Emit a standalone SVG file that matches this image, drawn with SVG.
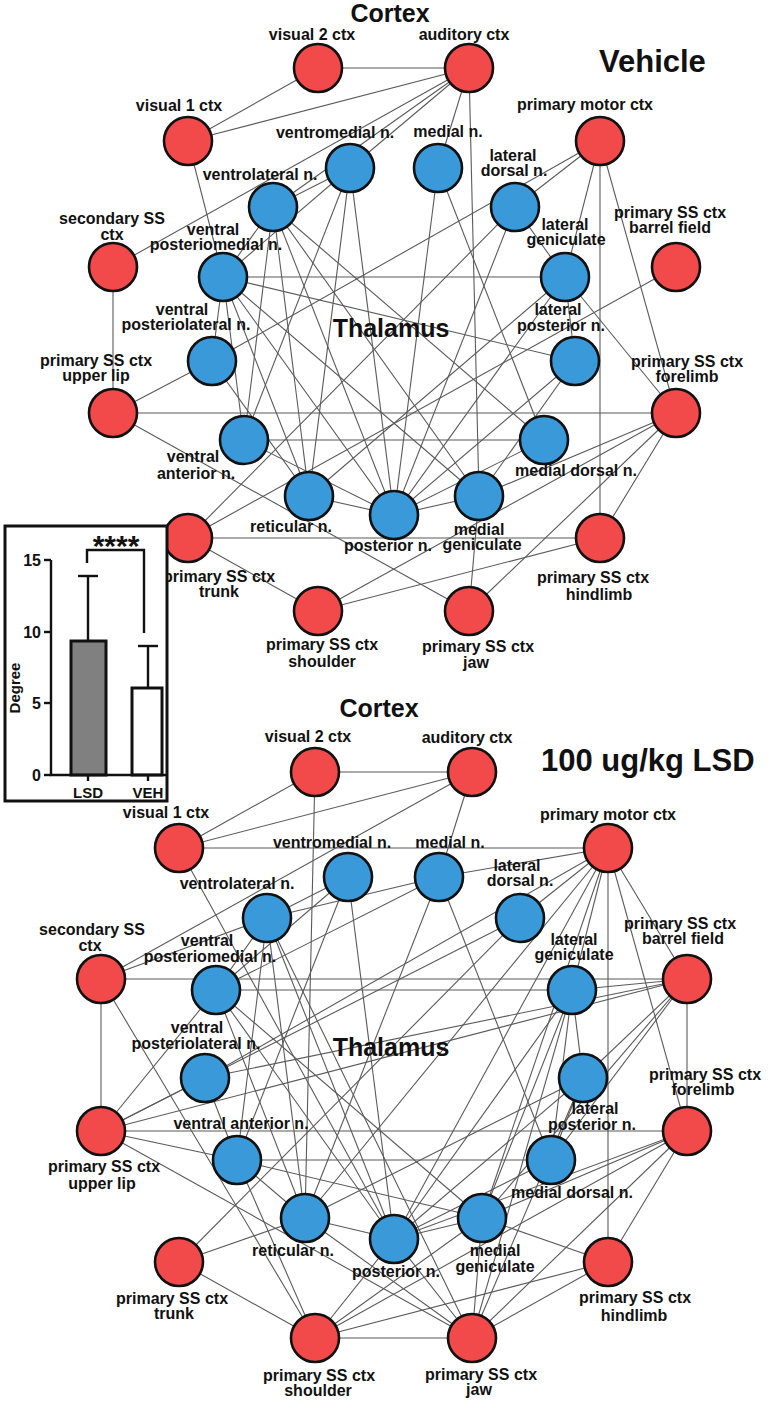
<svg xmlns="http://www.w3.org/2000/svg" width="771" height="1404" viewBox="0 0 771 1404">
<style>
.e{stroke:#5a5a5a;stroke-width:1.1;fill:none}
.r{fill:#f24a4a;stroke:#111;stroke-width:2.6}
.b{fill:#3a9ad9;stroke:#111;stroke-width:2.6}
text{font-family:"Liberation Sans",Arial,sans-serif;font-weight:bold;fill:#111}
.l{font-size:16px;text-anchor:middle}
.h{font-size:25px;text-anchor:middle}
.t{font-size:25px;text-anchor:middle}
.big{font-size:31px}
.ax{stroke:#111;stroke-width:2.4;fill:none}
.tk{font-size:16px;text-anchor:end}
</style>
<rect width="771" height="1404" fill="#fff"/>
<g id="connectors-vehicle" class="e">
<line x1="318" y1="68" x2="469" y2="68"/><line x1="318" y1="68" x2="188" y2="141"/><line x1="188" y1="141" x2="469" y2="68"/><line x1="113" y1="267" x2="469" y2="68"/><line x1="350" y1="168" x2="469" y2="68"/><line x1="273" y1="207" x2="469" y2="68"/><line x1="469" y1="68" x2="438" y2="168"/><line x1="469" y1="68" x2="479" y2="496"/>
<line x1="188" y1="141" x2="223" y2="277"/><line x1="113" y1="267" x2="113" y2="413"/>
<line x1="350" y1="168" x2="273" y2="207"/><line x1="350" y1="168" x2="223" y2="277"/><line x1="350" y1="168" x2="244" y2="440"/><line x1="350" y1="168" x2="309" y2="496"/><line x1="350" y1="168" x2="394" y2="515"/>
<line x1="273" y1="207" x2="223" y2="277"/><line x1="273" y1="207" x2="244" y2="440"/><line x1="273" y1="207" x2="309" y2="496"/><line x1="273" y1="207" x2="394" y2="515"/><line x1="273" y1="207" x2="479" y2="496"/><line x1="273" y1="207" x2="544" y2="440"/>
<line x1="223" y1="277" x2="565" y2="277"/><line x1="223" y1="277" x2="575" y2="361"/><line x1="223" y1="277" x2="212" y2="361"/><line x1="223" y1="277" x2="309" y2="496"/><line x1="223" y1="277" x2="394" y2="515"/><line x1="223" y1="277" x2="479" y2="496"/><line x1="223" y1="277" x2="244" y2="440"/>
<line x1="438" y1="168" x2="394" y2="515"/><line x1="438" y1="168" x2="544" y2="440"/>
<line x1="600" y1="141" x2="212" y2="361"/><line x1="600" y1="141" x2="515" y2="207"/><line x1="600" y1="141" x2="565" y2="277"/><line x1="600" y1="141" x2="600" y2="538"/><line x1="600" y1="141" x2="676" y2="413"/>
<line x1="515" y1="207" x2="565" y2="277"/><line x1="515" y1="207" x2="394" y2="515"/><line x1="515" y1="207" x2="188" y2="538"/>
<line x1="565" y1="277" x2="676" y2="413"/><line x1="565" y1="277" x2="394" y2="515"/><line x1="565" y1="277" x2="309" y2="496"/><line x1="565" y1="277" x2="575" y2="361"/>
<line x1="575" y1="361" x2="394" y2="515"/><line x1="575" y1="361" x2="479" y2="496"/>
<line x1="676" y1="267" x2="188" y2="538"/>
<line x1="113" y1="413" x2="212" y2="361"/><line x1="113" y1="413" x2="676" y2="413"/><line x1="113" y1="413" x2="469" y2="611"/>
<line x1="244" y1="440" x2="544" y2="440"/><line x1="244" y1="440" x2="394" y2="515"/><line x1="212" y1="361" x2="309" y2="496"/>
<line x1="309" y1="496" x2="394" y2="515"/><line x1="394" y1="515" x2="479" y2="496"/><line x1="394" y1="515" x2="544" y2="440"/>
<line x1="479" y1="496" x2="469" y2="611"/><line x1="479" y1="496" x2="676" y2="413"/>
<line x1="188" y1="538" x2="600" y2="538"/><line x1="188" y1="538" x2="318" y2="611"/>
<line x1="318" y1="611" x2="600" y2="538"/><line x1="318" y1="611" x2="676" y2="413"/>
<line x1="469" y1="611" x2="676" y2="413"/><line x1="600" y1="538" x2="676" y2="413"/>
</g>
<g id="connectors-lsd" class="e">
<line x1="315" y1="772" x2="472" y2="772"/><line x1="315" y1="772" x2="179" y2="848"/><line x1="315" y1="772" x2="305" y2="1218"/>
<line x1="472" y1="772" x2="179" y2="848"/><line x1="472" y1="772" x2="101" y2="979"/><line x1="472" y1="772" x2="439" y2="877"/>
<line x1="179" y1="848" x2="608" y2="848"/><line x1="179" y1="848" x2="394" y2="1239"/>
<line x1="101" y1="979" x2="267" y2="918"/><line x1="101" y1="979" x2="687" y2="979"/><line x1="101" y1="979" x2="101" y2="1131"/><line x1="101" y1="979" x2="315" y2="1338"/>
<line x1="348" y1="877" x2="267" y2="918"/><line x1="348" y1="877" x2="216" y2="990"/><line x1="348" y1="877" x2="237" y2="1160"/><line x1="348" y1="877" x2="394" y2="1239"/>
<line x1="267" y1="918" x2="439" y2="877"/><line x1="267" y1="918" x2="216" y2="990"/><line x1="267" y1="918" x2="237" y2="1160"/><line x1="267" y1="918" x2="305" y2="1218"/><line x1="267" y1="918" x2="394" y2="1239"/><line x1="267" y1="918" x2="472" y2="1338"/>
<line x1="216" y1="990" x2="439" y2="877"/><line x1="216" y1="990" x2="572" y2="990"/><line x1="216" y1="990" x2="394" y2="1239"/><line x1="216" y1="990" x2="305" y2="1218"/><line x1="216" y1="990" x2="482" y2="1218"/><line x1="216" y1="990" x2="101" y2="1131"/>
<line x1="439" y1="877" x2="305" y2="1218"/><line x1="439" y1="877" x2="551" y2="1160"/>
<line x1="608" y1="848" x2="439" y2="877"/><line x1="608" y1="848" x2="520" y2="918"/><line x1="608" y1="848" x2="305" y2="1218"/><line x1="608" y1="848" x2="394" y2="1239"/><line x1="608" y1="848" x2="482" y2="1218"/><line x1="608" y1="848" x2="572" y2="990"/><line x1="608" y1="848" x2="608" y2="1262"/><line x1="608" y1="848" x2="687" y2="1131"/><line x1="608" y1="848" x2="687" y2="979"/><line x1="608" y1="848" x2="205" y2="1078"/>
<line x1="520" y1="918" x2="101" y2="1131"/><line x1="520" y1="918" x2="179" y2="1262"/>
<line x1="687" y1="979" x2="572" y2="990"/><line x1="687" y1="979" x2="687" y2="1131"/><line x1="687" y1="979" x2="101" y2="1131"/><line x1="687" y1="979" x2="205" y2="1078"/><line x1="687" y1="979" x2="583" y2="1078"/><line x1="687" y1="979" x2="551" y2="1160"/><line x1="687" y1="979" x2="482" y2="1218"/>
<line x1="572" y1="990" x2="583" y2="1078"/><line x1="572" y1="990" x2="551" y2="1160"/><line x1="572" y1="990" x2="482" y2="1218"/><line x1="572" y1="990" x2="394" y2="1239"/><line x1="572" y1="990" x2="472" y2="1338"/>
<line x1="205" y1="1078" x2="101" y2="1131"/><line x1="205" y1="1078" x2="237" y2="1160"/>
<line x1="101" y1="1131" x2="687" y2="1131"/><line x1="101" y1="1131" x2="237" y2="1160"/><line x1="101" y1="1131" x2="472" y2="1338"/>
<line x1="237" y1="1160" x2="551" y2="1160"/><line x1="237" y1="1160" x2="305" y2="1218"/><line x1="237" y1="1160" x2="482" y2="1218"/><line x1="237" y1="1160" x2="315" y2="1338"/>
<line x1="305" y1="1218" x2="394" y2="1239"/><line x1="305" y1="1218" x2="179" y2="1262"/><line x1="305" y1="1218" x2="472" y2="1338"/><line x1="305" y1="1218" x2="583" y2="1078"/>
<line x1="583" y1="1078" x2="394" y2="1239"/><line x1="583" y1="1078" x2="551" y2="1160"/><line x1="583" y1="1078" x2="472" y2="1338"/>
<line x1="551" y1="1160" x2="394" y2="1239"/>
<line x1="482" y1="1218" x2="394" y2="1239"/><line x1="482" y1="1218" x2="608" y2="1262"/><line x1="482" y1="1218" x2="687" y2="1131"/><line x1="482" y1="1218" x2="472" y2="1338"/><line x1="482" y1="1218" x2="315" y2="1338"/>
<line x1="394" y1="1239" x2="472" y2="1338"/><line x1="394" y1="1239" x2="315" y2="1338"/><line x1="394" y1="1239" x2="687" y2="1131"/>
<line x1="179" y1="1262" x2="315" y2="1338"/>
<line x1="315" y1="1338" x2="472" y2="1338"/><line x1="315" y1="1338" x2="608" y2="1262"/><line x1="315" y1="1338" x2="687" y2="1131"/>
<line x1="472" y1="1338" x2="608" y2="1262"/><line x1="472" y1="1338" x2="687" y2="1131"/><line x1="608" y1="1262" x2="687" y2="1131"/>
</g>
<g id="titles">
<text class="h" x="390" y="22">Cortex</text>
<text class="big" x="599" y="72">Vehicle</text>
<text class="t" x="391" y="337">Thalamus</text>
<text class="h" x="379" y="717">Cortex</text>
<text class="big" x="541" y="771">100 ug/kg LSD</text>
<text class="t" x="391" y="1056">Thalamus</text>
</g>
<g id="vehicle-nodes">
<g id="t-v2"><circle class="r" cx="318" cy="68" r="24"/><text class="l" x="312" y="40">visual 2 ctx</text></g>
<g id="t-aud"><circle class="r" cx="469" cy="68" r="24"/><text class="l" x="464" y="40">auditory ctx</text></g>
<g id="t-v1"><circle class="r" cx="188" cy="141" r="24"/><text class="l" x="179" y="111">visual 1 ctx</text></g>
<g id="t-pm"><circle class="r" cx="600" cy="141" r="24"/><text class="l" x="585" y="110">primary motor ctx</text></g>
<g id="t-vm"><circle class="b" cx="350" cy="168" r="24"/><text class="l" x="335" y="138">ventromedial n.</text></g>
<g id="t-mn"><circle class="b" cx="438" cy="168" r="24"/><text class="l" x="448" y="137">medial n.</text></g>
<g id="t-vl"><circle class="b" cx="273" cy="207" r="24"/><text class="l" x="260" y="180">ventrolateral n.</text></g>
<g id="t-ld"><circle class="b" cx="515" cy="207" r="24"/><text class="l" x="513" y="161">lateral</text><text class="l" x="514" y="176">dorsal n.</text></g>
<g id="t-s2"><circle class="r" cx="113" cy="267" r="24"/><text class="l" x="112" y="224">secondary SS</text><text class="l" x="112" y="240">ctx</text></g>
<g id="t-bf"><circle class="r" cx="676" cy="267" r="24"/><text class="l" x="670" y="218">primary SS ctx</text><text class="l" x="670" y="233">barrel field</text></g>
<g id="t-vpm"><circle class="b" cx="223" cy="277" r="24"/><text class="l" x="213" y="235">ventral</text><text class="l" x="216" y="250">posteriomedial n.</text></g>
<g id="t-lg"><circle class="b" cx="565" cy="277" r="24"/><text class="l" x="565" y="230">lateral</text><text class="l" x="566" y="245">geniculate</text></g>
<g id="t-vpl"><circle class="b" cx="212" cy="361" r="24"/><text class="l" x="182" y="315">ventral</text><text class="l" x="186" y="330">posteriolateral n.</text></g>
<g id="t-lp"><circle class="b" cx="575" cy="361" r="24"/><text class="l" x="558" y="315">lateral</text><text class="l" x="561" y="331">posterior n.</text></g>
<g id="t-ul"><circle class="r" cx="113" cy="413" r="24"/><text class="l" x="96" y="366">primary SS ctx</text><text class="l" x="96" y="381">upper lip</text></g>
<g id="t-fl"><circle class="r" cx="676" cy="413" r="24"/><text class="l" x="687" y="367">primary SS ctx</text><text class="l" x="687" y="382">forelimb</text></g>
<g id="t-va"><circle class="b" cx="244" cy="440" r="24"/><text class="l" x="193" y="462">ventral</text><text class="l" x="196" y="479">anterior n.</text></g>
<g id="t-md"><circle class="b" cx="544" cy="440" r="24"/><text class="l" x="576" y="476">medial dorsal n.</text></g>
<g id="t-rt"><circle class="b" cx="309" cy="496" r="24"/><text class="l" x="291" y="532">reticular n.</text></g>
<g id="t-po"><circle class="b" cx="394" cy="515" r="24"/><text class="l" x="388" y="551">posterior n.</text></g>
<g id="t-mg"><circle class="b" cx="479" cy="496" r="24"/><text class="l" x="479" y="535">medial</text><text class="l" x="482" y="550">geniculate</text></g>
<g id="t-tr"><circle class="r" cx="188" cy="538" r="24"/><text class="l" x="219" y="582">primary SS ctx</text><text class="l" x="219" y="597">trunk</text></g>
<g id="t-hl"><circle class="r" cx="600" cy="538" r="24"/><text class="l" x="593" y="583">primary SS ctx</text><text class="l" x="599" y="600">hindlimb</text></g>
<g id="t-sh"><circle class="r" cx="318" cy="611" r="24"/><text class="l" x="322" y="650">primary SS ctx</text><text class="l" x="322" y="667">shoulder</text></g>
<g id="t-jaw"><circle class="r" cx="469" cy="611" r="24"/><text class="l" x="478" y="652">primary SS ctx</text><text class="l" x="476" y="668">jaw</text></g>
</g>
<g id="lsd-nodes">
<g id="b-v2"><circle class="r" cx="315" cy="772" r="24"/><text class="l" x="308" y="742">visual 2 ctx</text></g>
<g id="b-aud"><circle class="r" cx="472" cy="772" r="24"/><text class="l" x="467" y="743">auditory ctx</text></g>
<g id="b-v1"><circle class="r" cx="179" cy="848" r="24"/><text class="l" x="166" y="818">visual 1 ctx</text></g>
<g id="b-pm"><circle class="r" cx="608" cy="848" r="24"/><text class="l" x="608" y="820">primary motor ctx</text></g>
<g id="b-vm"><circle class="b" cx="348" cy="877" r="24"/><text class="l" x="332" y="848">ventromedial n.</text></g>
<g id="b-mn"><circle class="b" cx="439" cy="877" r="24"/><text class="l" x="450" y="848">medial n.</text></g>
<g id="b-vl"><circle class="b" cx="267" cy="918" r="24"/><text class="l" x="237" y="889">ventrolateral n.</text></g>
<g id="b-ld"><circle class="b" cx="520" cy="918" r="24"/><text class="l" x="517" y="871">lateral</text><text class="l" x="520" y="886">dorsal n.</text></g>
<g id="b-s2"><circle class="r" cx="101" cy="979" r="24"/><text class="l" x="92" y="935">secondary SS</text><text class="l" x="90" y="951">ctx</text></g>
<g id="b-bf"><circle class="r" cx="687" cy="979" r="24"/><text class="l" x="680" y="929">primary SS ctx</text><text class="l" x="683" y="944">barrel field</text></g>
<g id="b-vpm"><circle class="b" cx="216" cy="990" r="24"/><text class="l" x="207" y="946">ventral</text><text class="l" x="210" y="962">posteriomedial n.</text></g>
<g id="b-lg"><circle class="b" cx="572" cy="990" r="24"/><text class="l" x="574" y="945">lateral</text><text class="l" x="574" y="960">geniculate</text></g>
<g id="b-vpl"><circle class="b" cx="205" cy="1078" r="24"/><text class="l" x="197" y="1033">ventral</text><text class="l" x="196" y="1049">posteriolateral n.</text></g>
<g id="b-lp"><circle class="b" cx="583" cy="1078" r="24"/><text class="l" x="595" y="1114">lateral</text><text class="l" x="592" y="1130">posterior n.</text></g>
<g id="b-ul"><circle class="r" cx="101" cy="1131" r="24"/><text class="l" x="104" y="1172">primary SS ctx</text><text class="l" x="102" y="1189">upper lip</text></g>
<g id="b-fl"><circle class="r" cx="687" cy="1131" r="24"/><text class="l" x="705" y="1080">primary SS ctx</text><text class="l" x="703" y="1095">forelimb</text></g>
<g id="b-va"><circle class="b" cx="237" cy="1160" r="24"/><text class="l" x="241" y="1129">ventral anterior n.</text></g>
<g id="b-md"><circle class="b" cx="551" cy="1160" r="24"/><text class="l" x="572" y="1198">medial dorsal n.</text></g>
<g id="b-rt"><circle class="b" cx="305" cy="1218" r="24"/><text class="l" x="293" y="1256">reticular n.</text></g>
<g id="b-po"><circle class="b" cx="394" cy="1239" r="24"/><text class="l" x="396" y="1277">posterior n.</text></g>
<g id="b-mg"><circle class="b" cx="482" cy="1218" r="24"/><text class="l" x="495" y="1256">medial</text><text class="l" x="495" y="1272">geniculate</text></g>
<g id="b-tr"><circle class="r" cx="179" cy="1262" r="24"/><text class="l" x="172" y="1304">primary SS ctx</text><text class="l" x="174" y="1319">trunk</text></g>
<g id="b-hl"><circle class="r" cx="608" cy="1262" r="24"/><text class="l" x="635" y="1303">primary SS ctx</text><text class="l" x="634" y="1321">hindlimb</text></g>
<g id="b-sh"><circle class="r" cx="315" cy="1338" r="24"/><text class="l" x="319" y="1381">primary SS ctx</text><text class="l" x="318" y="1396">shoulder</text></g>
<g id="b-jaw"><circle class="r" cx="472" cy="1338" r="24"/><text class="l" x="481" y="1380">primary SS ctx</text><text class="l" x="479" y="1395">jaw</text></g>
</g>
<g id="inset-chart">
<rect x="5" y="526" width="162" height="275" fill="#fff" stroke="#111" stroke-width="3"/>
<line class="ax" x1="88" y1="641" x2="88" y2="576"/><line class="ax" x1="78" y1="576" x2="98" y2="576"/>
<line class="ax" x1="148" y1="688" x2="148" y2="646"/><line class="ax" x1="138" y1="646" x2="158" y2="646"/>
<rect x="71" y="641" width="35" height="134" fill="#808080" stroke="#111" stroke-width="3"/>
<rect x="132" y="688" width="30" height="87" fill="#fff" stroke="#111" stroke-width="3"/>
<polyline class="ax" points="51,560 51,775 167,775"/>
<line class="ax" x1="44" y1="560" x2="51" y2="560"/><line class="ax" x1="44" y1="632" x2="51" y2="632"/><line class="ax" x1="44" y1="703" x2="51" y2="703"/><line class="ax" x1="44" y1="775" x2="51" y2="775"/>
<line class="ax" x1="88" y1="775" x2="88" y2="781"/><line class="ax" x1="148" y1="775" x2="148" y2="781"/>
<text class="tk" x="41" y="566">15</text><text class="tk" x="41" y="638">10</text><text class="tk" x="41" y="709">5</text><text class="tk" x="41" y="781">0</text>
<text x="0" y="0" font-size="15" text-anchor="middle" transform="translate(20,688) rotate(-90)">Degree</text>
<text x="88" y="798" font-size="15" text-anchor="middle">LSD</text>
<text x="148" y="798" font-size="15" text-anchor="middle">VEH</text>
<polyline class="ax" points="87,563 87,550 144,550 144,633"/>
<text x="116" y="556" font-size="30" text-anchor="middle">****</text>
</g>
</svg>
